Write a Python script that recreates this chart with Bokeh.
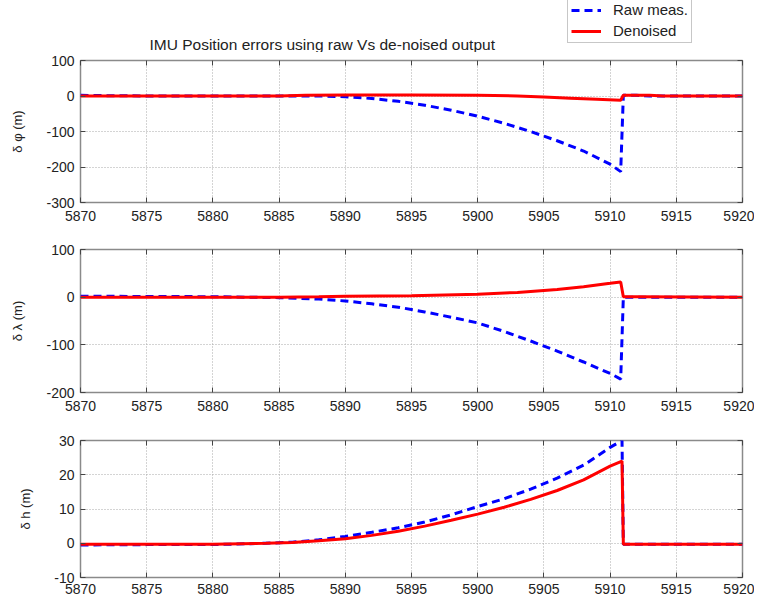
from bokeh.plotting import figure
from bokeh.layouts import column
from bokeh.models import (FixedTicker, Legend, LegendItem, LinearAxis, Label,
                          PrintfTickFormatter)
from bokeh.embed import file_html
from bokeh.resources import INLINE

# ---- data ----
x_ticks = [5870, 5875, 5880, 5885, 5890, 5895, 5900, 5905, 5910, 5915, 5920]

# subplot 1: delta phi (m)
t_phi_raw = [5870, 5872, 5875, 5880, 5885, 5888, 5890, 5892, 5894, 5896, 5898, 5900, 5902, 5904, 5906, 5908, 5910, 5910.8, 5911.0, 5912, 5913, 5920]
phi_raw   = [2, 1, 0, 0, 0, 0, -2, -7, -15, -26, -40, -57, -77, -100, -126, -155, -192, -213, 2, 2, 0, 0]
t_phi_den = [5870, 5885, 5887, 5890, 5895, 5900, 5903, 5905, 5907, 5909, 5910.8, 5911.0, 5913, 5914, 5920]
phi_den   = [0, 0, 2, 3, 3, 2, 0, -3, -6, -9, -12, 2, 2, 0, 0]

# subplot 2: delta lambda (m)
t_lam_raw = [5870, 5880, 5885, 5888, 5890, 5892, 5894, 5896, 5898, 5900, 5902, 5904, 5906, 5908, 5910, 5910.8, 5911.0, 5920]
lam_raw   = [2, 1, -1, -4, -8, -14, -21, -31, -42, -54, -72, -92, -113, -136, -160, -172, 0, 0]
t_lam_den = [5870, 5885, 5888, 5890, 5895, 5900, 5903, 5906, 5908, 5910, 5910.8, 5911.0, 5912, 5920]
lam_den   = [0, 0, 1, 2, 3, 6, 10, 16, 22, 29, 32, 1, 1, 0]

# subplot 3: delta h (m)
t_h_raw = [5870, 5875, 5880, 5884, 5886, 5888, 5890, 5892, 5894, 5896, 5898, 5900, 5902, 5904, 5906, 5908, 5910, 5910.9, 5911.0, 5920]
h_raw   = [-0.5, -0.4, -0.4, 0, 0.3, 1, 2, 3.2, 4.5, 6.2, 8.3, 10.7, 13, 15.8, 19, 22.8, 28, 30, -0.3, -0.3]
t_h_den = [5870, 5880, 5884, 5886, 5888, 5890, 5892, 5894, 5896, 5898, 5900, 5902, 5904, 5906, 5908, 5910, 5910.9, 5911.0, 5920]
h_den   = [-0.3, -0.3, 0, 0.2, 0.7, 1.3, 2.3, 3.5, 5, 6.7, 8.5, 10.5, 12.8, 15.4, 18.5, 22.5, 24, -0.3, -0.3]

y_ticks_phi = [-300, -200, -100, 0, 100]
y_ticks_lam = [-200, -100, 0, 100]
y_ticks_h = [-10, 0, 10, 20, 30]

title_text = "IMU Position errors using raw Vs de-noised output"
legend_labels = ["Raw meas.", "Denoised"]

FONT = "Liberation Sans"
BLUE = "#0000ff"
RED = "#ff0000"
FRAME = "#8a8a8a"
TICK = "#444444"
LEFT, RIGHT, W = 80, 12, 754
NAN = float("nan")


def style_axis(ax, show_labels=True):
    ax.axis_line_color = None
    ax.major_tick_in = 5
    ax.major_tick_out = 0
    ax.minor_tick_line_color = None
    ax.major_tick_line_color = TICK
    ax.major_label_text_font = FONT
    ax.formatter = PrintfTickFormatter(format="%d")
    if show_labels:
        ax.major_label_text_font_size = "14px"
        ax.major_label_text_color = "#222222"
    else:
        ax.major_label_text_font_size = "1px"
        ax.major_label_text_color = None
        ax.major_label_standoff = 0


def make_fig(height, top, bottom, yr, yticks, ylabel, xstandoff):
    p = figure(width=W, height=height, x_range=(5870, 5920), y_range=yr,
               output_backend="svg", toolbar_location=None, title=None,
               min_border_left=LEFT, min_border_right=RIGHT,
               min_border_top=top, min_border_bottom=bottom)
    p.background_fill_color = "white"
    p.border_fill_color = "white"
    p.outline_line_color = FRAME
    p.outline_line_width = 1.5
    style_axis(p.xaxis[0])
    style_axis(p.yaxis[0])
    p.xaxis.ticker = FixedTicker(ticks=x_ticks)
    p.yaxis.ticker = FixedTicker(ticks=yticks)
    p.xaxis.major_label_standoff = xstandoff
    p.yaxis.major_label_standoff = 6
    # mirrored ticks on top and right (box style)
    top_ax = LinearAxis(ticker=FixedTicker(ticks=x_ticks))
    style_axis(top_ax, show_labels=False)
    right_ax = LinearAxis(ticker=FixedTicker(ticks=yticks))
    style_axis(right_ax, show_labels=False)
    p.add_layout(top_ax, "above")
    p.add_layout(right_ax, "right")
    p.yaxis[0].axis_label = ylabel
    p.yaxis[0].axis_label_text_font = FONT
    p.yaxis[0].axis_label_text_font_size = "13px"
    p.yaxis[0].axis_label_text_font_style = "normal"
    p.yaxis[0].axis_label_text_color = "#222222"
    p.yaxis[0].axis_label_standoff = 18
    for g in (p.xgrid[0], p.ygrid[0]):
        g.grid_line_color = "#a8a8a8"
        g.grid_line_dash = "1 2"
        g.grid_line_width = 1
    return p


# ---- header strip: title and legend (drawn outside the first axes box) ----
# its frame is aligned with the axes below, so x is given in page pixels
p0 = figure(width=W, height=52, x_range=(LEFT, W - RIGHT), y_range=(0, 52),
            output_backend="svg", toolbar_location=None, title=None,
            x_axis_location=None, y_axis_location=None,
            min_border_left=LEFT, min_border_right=RIGHT, min_border_top=0,
            min_border_bottom=0)
p0.grid.visible = False
p0.outline_line_color = None
p0.background_fill_color = "white"
p0.border_fill_color = "white"
# legend proxies (no visible data; they only give the legend its line styles)
lb = p0.line([NAN], [NAN], line_color=BLUE, line_width=3, line_dash="8 5")
lr = p0.line([NAN], [NAN], line_color=RED, line_width=3)
p0.add_layout(Label(x=149, y=8, text=title_text, text_font=FONT,
                    text_font_size="15.5px", text_color="#222222",
                    text_baseline="middle", text_align="left"))
legend = Legend(items=[LegendItem(label=legend_labels[0], renderers=[lb]),
                       LegendItem(label=legend_labels[1], renderers=[lr])],
                location=(567 - LEFT, 9))
legend.label_text_font = FONT
legend.label_text_font_size = "15px"
legend.label_text_color = "#222222"
legend.glyph_width = 30
legend.glyph_height = 14
legend.label_height = 14
legend.spacing = 4
legend.padding = 3
legend.margin = 0
legend.label_standoff = 12
legend.border_line_color = "#909090"
legend.border_line_width = 1
legend.background_fill_color = "white"
legend.background_fill_alpha = 1
p0.add_layout(legend)

p1 = make_fig(175, 8, 25, (-300, 100), y_ticks_phi, "δ φ (m)", 8)
p1.line(t_phi_raw, phi_raw, line_color=BLUE, line_width=3, line_dash="8 5")
p1.line(t_phi_den, phi_den, line_color=RED, line_width=3)

p2 = make_fig(190, 22, 25, (-200, 100), y_ticks_lam, "δ λ (m)", 8)
p2.line(t_lam_raw, lam_raw, line_color=BLUE, line_width=3, line_dash="8 5")
p2.line(t_lam_den, lam_den, line_color=RED, line_width=3)

p3 = make_fig(183, 23, 23, (-10, 30), y_ticks_h, "δ h (m)", 6)
p3.line(t_h_raw, h_raw, line_color=BLUE, line_width=3, line_dash="8 5")
p3.line(t_h_den, h_den, line_color=RED, line_width=3)

layout = column(p0, p1, p2, p3, spacing=0)
open("out.html", "w").write(file_html(layout, INLINE))
